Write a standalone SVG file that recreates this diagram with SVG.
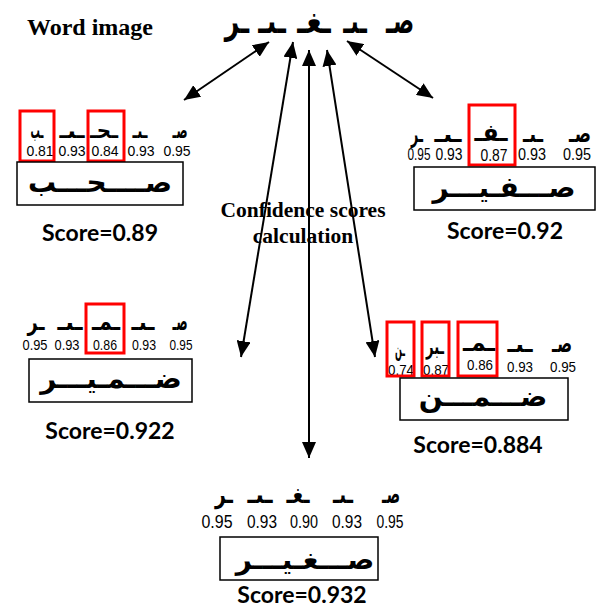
<svg xmlns="http://www.w3.org/2000/svg" width="597" height="610" viewBox="0 0 597 610">
<style>
.title{font-family:"Liberation Serif","Times New Roman",serif;font-weight:bold;fill:#000}
.ar{font-family:"DejaVu Sans",sans-serif;font-weight:bold;fill:#000;text-anchor:middle}
.seg{font-family:"DejaVu Sans",sans-serif;font-weight:bold;fill:#000;text-anchor:middle}
.num{font-family:"Liberation Sans",Arial,sans-serif;fill:#000;text-anchor:middle}
.score{font-family:Lato,"Open Sans",sans-serif;font-weight:bold;fill:#000;text-anchor:middle;font-size:23px}
.red{fill:none;stroke:#ff0000;stroke-width:3}
.box{fill:#fff;stroke:#000;stroke-width:1.5}
.conn{stroke:#000;stroke-width:2;fill:none;marker-start:url(#ah);marker-end:url(#ah)}
</style>
<defs>
<marker id="ah" markerUnits="userSpaceOnUse" viewBox="0 0 16 14" refX="16" refY="7" markerWidth="16" markerHeight="14" orient="auto-start-reverse">
<path d="M0,0 L16,7 L0,14 Z" fill="#000"/>
</marker>
</defs>

<g id="word-image">
<text class="title" x="27" y="35" font-size="24">Word image</text>
<text class="seg" transform="translate(237,33) scale(0.7,1)" font-size="36">ـر</text>
<text class="seg" transform="translate(272,33) scale(0.7,1)" font-size="36">ـىـ</text>
<text class="seg" transform="translate(314,33) scale(0.75,1)" font-size="36">ـغـ</text>
<text class="seg" transform="translate(355,33) scale(0.6,1)" font-size="36">ـىـ</text>
<text class="seg" transform="translate(400,33) scale(0.6,1)" font-size="36">صـ</text>
</g>

<g id="connectors">
<line class="conn" x1="184" y1="100" x2="269" y2="42"/>
<line class="conn" x1="241" y1="357" x2="293" y2="42"/>
<line class="conn" x1="309" y1="458" x2="309" y2="50"/>
<line class="conn" x1="375" y1="357" x2="327" y2="50"/>
<line class="conn" x1="433" y1="98" x2="347" y2="41"/>
</g>

<g id="calc-label">
<text class="title" x="303" y="217" font-size="21.5" text-anchor="middle">Confidence scores</text>
<text class="title" x="303" y="243" font-size="21.5" text-anchor="middle">calculation</text>
</g>

<g id="cand-sahb">
<text class="seg" x="37" y="138" font-size="22" textLength="13" lengthAdjust="spacingAndGlyphs">ـب</text>
<text class="seg" x="72" y="138" font-size="22" textLength="25" lengthAdjust="spacingAndGlyphs">ـىـ</text>
<text class="seg" x="104" y="138" font-size="22" textLength="28" lengthAdjust="spacingAndGlyphs">ـحـ</text>
<text class="seg" x="140" y="138" font-size="22" textLength="15" lengthAdjust="spacingAndGlyphs">ـىـ</text>
<text class="seg" x="180" y="138" font-size="22" textLength="15" lengthAdjust="spacingAndGlyphs">صـ</text>
<text class="num" x="40" y="156" font-size="14">0.81</text>
<text class="num" x="72" y="156" font-size="14">0.93</text>
<text class="num" x="105" y="156" font-size="14">0.84</text>
<text class="num" x="141" y="156" font-size="14">0.93</text>
<text class="num" x="177" y="156" font-size="14">0.95</text>
<rect class="red" x="20" y="111" width="34" height="50"/>
<rect class="red" x="88" y="111" width="36" height="50"/>
<rect class="box" x="17" y="162" width="166" height="43"/>
<text class="ar" x="100" y="192" font-size="28">صــــحـــب</text>
<text class="score" x="100" y="241">Score=0.89</text>
</g>

<g id="cand-safir">
<text class="seg" x="417" y="142" font-size="24" textLength="12" lengthAdjust="spacingAndGlyphs">ـر</text>
<text class="seg" x="448" y="142" font-size="24" textLength="27" lengthAdjust="spacingAndGlyphs">ـىـ</text>
<text class="seg" x="491" y="141" font-size="24" textLength="33" lengthAdjust="spacingAndGlyphs">ـفـ</text>
<text class="seg" x="533" y="142" font-size="24" textLength="20" lengthAdjust="spacingAndGlyphs">ـىـ</text>
<text class="seg" transform="translate(580,142) scale(0.7,1)" font-size="24">صـ</text>
<text class="num" x="419" y="160" font-size="16" textLength="23" lengthAdjust="spacingAndGlyphs">0.95</text>
<text class="num" x="449" y="160" font-size="16" textLength="27" lengthAdjust="spacingAndGlyphs">0.93</text>
<text class="num" x="494" y="161" font-size="16" textLength="27" lengthAdjust="spacingAndGlyphs">0.87</text>
<text class="num" x="532" y="160" font-size="16" textLength="28" lengthAdjust="spacingAndGlyphs">0.93</text>
<text class="num" x="577" y="160" font-size="16" textLength="28" lengthAdjust="spacingAndGlyphs">0.95</text>
<rect class="red" x="469" y="105" width="46" height="60"/>
<rect class="box" x="414" y="167" width="181" height="43"/>
<text class="ar" x="504" y="197" font-size="28">صـــفـيـــر</text>
<text class="score" x="505" y="239">Score=0.92</text>
</g>

<g id="cand-damir">
<text class="seg" x="36" y="330" font-size="24" textLength="17" lengthAdjust="spacingAndGlyphs">ـر</text>
<text class="seg" x="70" y="330" font-size="24" textLength="25" lengthAdjust="spacingAndGlyphs">ـىـ</text>
<text class="seg" x="106" y="330" font-size="24" textLength="28" lengthAdjust="spacingAndGlyphs">ـمـ</text>
<text class="seg" x="143" y="330" font-size="24" textLength="23" lengthAdjust="spacingAndGlyphs">ـىـ</text>
<text class="seg" x="180" y="330" font-size="24" textLength="15" lengthAdjust="spacingAndGlyphs">صـ</text>
<text class="num" x="35" y="350" font-size="15" textLength="25" lengthAdjust="spacingAndGlyphs">0.95</text>
<text class="num" x="67" y="350" font-size="15" textLength="25" lengthAdjust="spacingAndGlyphs">0.93</text>
<text class="num" x="105" y="350" font-size="15" textLength="24" lengthAdjust="spacingAndGlyphs">0.86</text>
<text class="num" x="144" y="350" font-size="15" textLength="24" lengthAdjust="spacingAndGlyphs">0.93</text>
<text class="num" x="181" y="350" font-size="15" textLength="23" lengthAdjust="spacingAndGlyphs">0.95</text>
<rect class="red" x="86" y="304" width="38" height="49"/>
<rect class="box" x="29" y="359" width="163" height="43"/>
<text class="ar" x="111" y="388" font-size="28">ضـــمـيـــر</text>
<text class="score" x="110" y="439">Score=0.922</text>
</g>

<g id="cand-damn">
<text class="seg" x="400" y="356" font-size="20" textLength="10" lengthAdjust="spacingAndGlyphs">ـن</text>
<text class="seg" x="435" y="354" font-size="22" textLength="18" lengthAdjust="spacingAndGlyphs">ـبر</text>
<text class="seg" x="479" y="351" font-size="24" textLength="32" lengthAdjust="spacingAndGlyphs">ـمـ</text>
<text class="seg" x="520" y="352" font-size="24" textLength="25" lengthAdjust="spacingAndGlyphs">ـىـ</text>
<text class="seg" x="562" y="352" font-size="24" textLength="20" lengthAdjust="spacingAndGlyphs">صـ</text>
<text class="num" x="401" y="375" font-size="15" textLength="26" lengthAdjust="spacingAndGlyphs">0.74</text>
<text class="num" x="436" y="375" font-size="15" textLength="26" lengthAdjust="spacingAndGlyphs">0.87</text>
<text class="num" x="480" y="370" font-size="15" textLength="26" lengthAdjust="spacingAndGlyphs">0.86</text>
<text class="num" x="520" y="372" font-size="15" textLength="26" lengthAdjust="spacingAndGlyphs">0.93</text>
<text class="num" x="563" y="372" font-size="15" textLength="26" lengthAdjust="spacingAndGlyphs">0.95</text>
<rect class="red" x="387" y="322" width="27" height="54"/>
<rect class="red" x="422" y="322" width="27" height="54"/>
<rect class="red" x="458" y="322" width="39" height="54"/>
<rect class="box" x="400" y="378" width="168" height="42"/>
<text class="ar" x="483" y="406" font-size="28">ضـــمـــن</text>
<text class="score" x="478" y="453">Score=0.884</text>
</g>

<g id="cand-saghir">
<text class="seg" x="224" y="503" font-size="26" textLength="18" lengthAdjust="spacingAndGlyphs">ـر</text>
<text class="seg" x="260" y="503" font-size="26" textLength="25" lengthAdjust="spacingAndGlyphs">ـىـ</text>
<text class="seg" x="298" y="503" font-size="26" textLength="23" lengthAdjust="spacingAndGlyphs">ـغـ</text>
<text class="seg" x="343" y="503" font-size="26" textLength="20" lengthAdjust="spacingAndGlyphs">ـىـ</text>
<text class="seg" x="391" y="503" font-size="26" textLength="18" lengthAdjust="spacingAndGlyphs">صـ</text>
<text class="num" x="217" y="528" font-size="19" textLength="31" lengthAdjust="spacingAndGlyphs">0.95</text>
<text class="num" x="262" y="528" font-size="19" textLength="30" lengthAdjust="spacingAndGlyphs">0.93</text>
<text class="num" x="304" y="528" font-size="19" textLength="28" lengthAdjust="spacingAndGlyphs">0.90</text>
<text class="num" x="347" y="528" font-size="19" textLength="30" lengthAdjust="spacingAndGlyphs">0.93</text>
<text class="num" x="390" y="528" font-size="19" textLength="27" lengthAdjust="spacingAndGlyphs">0.95</text>
<rect class="box" x="220" y="537" width="158" height="43"/>
<text class="ar" x="305" y="569" font-size="28">صـــغـيـــر</text>
<text class="score" x="302" y="603">Score=0.932</text>
</g>
</svg>
